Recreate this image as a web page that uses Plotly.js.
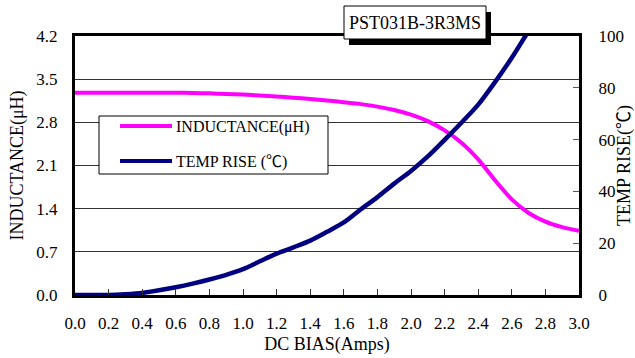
<!DOCTYPE html>
<html>
<head>
<meta charset="utf-8">
<script src="https://cdn.plot.ly/plotly-3.0.1.min.js"></script>
<style>html,body{margin:0;padding:0;background:#fff;}#chart{width:635px;height:358px;}</style>
</head>
<body>
<div id="chart"></div>
<script>
// ---- data ----
var current = [0.0, 0.1, 0.2, 0.3, 0.4, 0.5, 0.6, 0.7, 0.8, 0.9, 1.0, 1.1, 1.2, 1.3, 1.4, 1.5,
               1.6, 1.7, 1.8, 1.9, 2.0, 2.1, 2.2, 2.3, 2.4, 2.5, 2.6, 2.7, 2.8, 2.9, 3.0];
var inductance = [3.28, 3.28, 3.28, 3.28, 3.28, 3.28, 3.28, 3.275, 3.27, 3.26, 3.25, 3.235, 3.22, 3.20, 3.18, 3.155,
                  3.125, 3.095, 3.055, 3.00, 2.925, 2.82, 2.67, 2.47, 2.20, 1.86, 1.55, 1.33, 1.19, 1.10, 1.04];
var tempCurrent = [0.0, 0.1, 0.2, 0.3, 0.4, 0.5, 0.6, 0.7, 0.8, 0.9, 1.0, 1.1, 1.2, 1.3, 1.4, 1.5,
                   1.6, 1.7, 1.8, 1.9, 2.0, 2.1, 2.2, 2.3, 2.4, 2.5, 2.6, 2.7];
var tempRise = [0, 0, 0, 0.3, 0.8, 1.8, 3, 4.4, 6, 7.8, 10, 13, 16, 18.4, 21, 24.4,
                28, 33, 37.8, 43, 47.9, 53.5, 59.9, 66.5, 73.5, 82.2, 91.6, 102];
var xTicks = [0.0, 0.2, 0.4, 0.6, 0.8, 1.0, 1.2, 1.4, 1.6, 1.8, 2.0, 2.2, 2.4, 2.6, 2.8, 3.0];
var xTickText = ['0.0','0.2','0.4','0.6','0.8','1.0','1.2','1.4','1.6','1.8','2.0','2.2','2.4','2.6','2.8','3.0'];
var yTicks = [0, 0.7, 1.4, 2.1, 2.8, 3.5, 4.2];
var yTickText = ['0.0','0.7','1.4','2.1','2.8','3.5','4.2'];
var y2Ticks = [0, 20, 40, 60, 80, 100];
var y2TickText = ['0','20','40','60','80','100'];
var seriesNames = ['INDUCTANCE(\u03bcH)', 'TEMP RISE (\u2103)'];
var chartTitle = 'PST031B-3R3MS';

// ---- layout helpers (pixel -> paper) ----
var L = 75, T = 36, W = 504, H = 259;
function px(x) { return (x - L) / W; }
function py(y) { return (T + H - y) / H; }

var FONT = 'Liberation Serif, Times New Roman, Noto Sans CJK SC, serif';
var MAG = '#ff00ff', NAVY = '#000080';

var traces = [
  {x: current, y: inductance, type: 'scatter', mode: 'lines', name: seriesNames[0],
   line: {color: MAG, width: 4, shape: 'spline', smoothing: 0.8}, yaxis: 'y', showlegend: false, hoverinfo: 'skip'},
  {x: tempCurrent, y: tempRise, type: 'scatter', mode: 'lines', name: seriesNames[1],
   line: {color: NAVY, width: 4.5, shape: 'spline', smoothing: 0.8}, yaxis: 'y2', showlegend: false, hoverinfo: 'skip'}
];

var layout = {
  width: 635, height: 358,
  margin: {l: L, r: 635 - L - W, t: T, b: 358 - T - H},
  paper_bgcolor: '#fff', plot_bgcolor: '#fff',
  font: {family: FONT, size: 17, color: '#000'},
  showlegend: false,
  xaxis: {
    range: [0, 3], tickvals: xTicks, ticktext: xTickText,
    ticks: 'inside', ticklen: 6, tickcolor: '#333', tickwidth: 1,
    showline: true, linewidth: 3, linecolor: '#000', mirror: true,
    showgrid: false, zeroline: false, ticklabelstandoff: 11,
    title: {text: 'DC BIAS(Amps)', font: {size: 18}, standoff: 5}
  },
  yaxis: {
    range: [0, 4.2], tickvals: yTicks, ticktext: yTickText,
    ticks: '', showline: true, linewidth: 3, linecolor: '#000',
    showgrid: true, gridcolor: '#333', gridwidth: 1, zeroline: false,
    ticklabelstandoff: 11,
    title: {text: 'INDUCTANCE(\u03bcH)', font: {size: 18}, standoff: 9}
  },
  yaxis2: {
    range: [0, 100], tickvals: y2Ticks, ticktext: y2TickText,
    overlaying: 'y', side: 'right', anchor: 'x',
    ticks: 'inside', ticklen: 6, tickcolor: '#555', tickwidth: 1,
    showline: true, linewidth: 3, linecolor: '#000',
    showgrid: false, zeroline: false, ticklabelstandoff: 13,
    title: {text: 'TEMP RISE(\u2103)', font: {size: 18}, standoff: 13}
  },
  shapes: [
    // title box shadow + box
    {type: 'rect', xref: 'paper', yref: 'paper', x0: px(349), x1: px(491), y0: py(45), y1: py(12),
     fillcolor: '#000', line: {width: 0}, layer: 'above'},
    {type: 'rect', xref: 'paper', yref: 'paper', x0: px(344), x1: px(486), y0: py(39), y1: py(6),
     fillcolor: '#fff', line: {color: '#000', width: 1}, layer: 'above'},
    // legend box
    {type: 'rect', xref: 'paper', yref: 'paper', x0: px(99), x1: px(328), y0: py(174), y1: py(116),
     fillcolor: '#fff', line: {color: '#000', width: 1}, layer: 'above'},
    {type: 'line', xref: 'paper', yref: 'paper', x0: px(120), x1: px(172), y0: py(126), y1: py(126),
     line: {color: MAG, width: 4}, layer: 'above'},
    {type: 'line', xref: 'paper', yref: 'paper', x0: px(120), x1: px(172), y0: py(161), y1: py(161),
     line: {color: NAVY, width: 4}, layer: 'above'}
  ],
  annotations: [
    {xref: 'paper', yref: 'paper', x: px(415), y: py(22.5), text: chartTitle, showarrow: false,
     xanchor: 'center', yanchor: 'middle', font: {size: 18}},
    {xref: 'paper', yref: 'paper', x: px(174), y: py(127), text: seriesNames[0], showarrow: false,
     xanchor: 'left', yanchor: 'middle', font: {size: 16}},
    {xref: 'paper', yref: 'paper', x: px(174), y: py(162), text: seriesNames[1], showarrow: false,
     xanchor: 'left', yanchor: 'middle', font: {size: 16}}
  ]
};

Plotly.newPlot('chart', traces, layout, {staticPlot: true, displayModeBar: false});
</script>
</body>
</html>
